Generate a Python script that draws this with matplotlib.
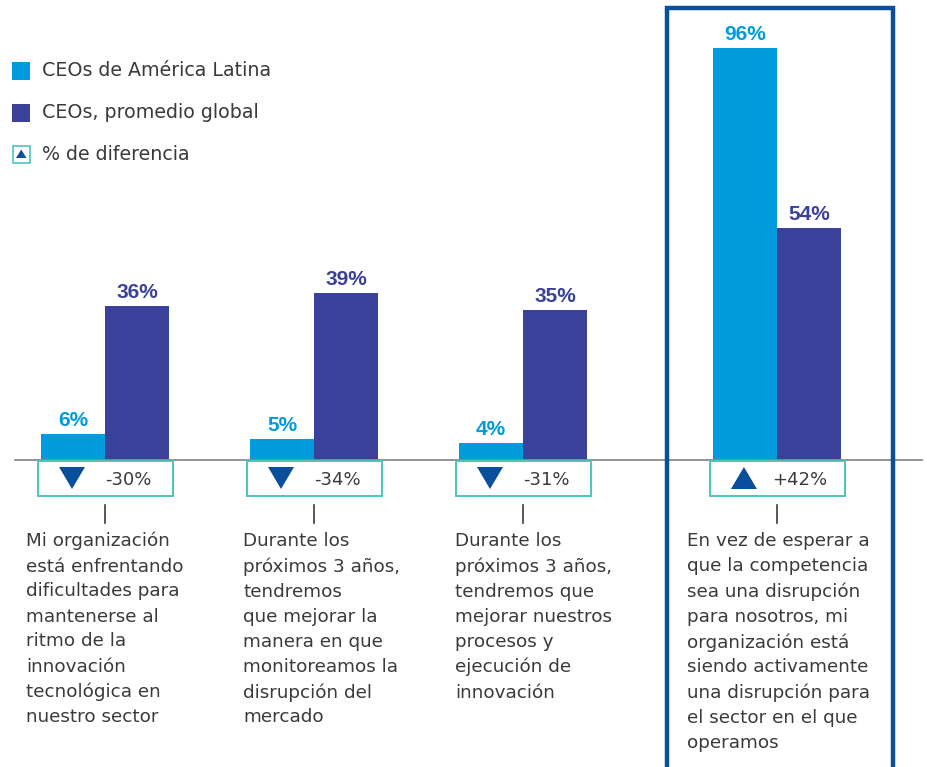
import matplotlib
matplotlib.use("Agg")
import matplotlib.pyplot as plt
from matplotlib.patches import Rectangle, Polygon

plt.rcParams['font.family'] = ['DejaVu Sans']
BOLD = ['Liberation Sans', 'DejaVu Sans']

categories = [
    "Mi organización\nestá enfrentando\ndificultades para\nmantenerse al\nritmo de la\ninnovación\ntecnológica en\nnuestro sector",
    "Durante los\npróximos 3 años,\ntendremos\nque mejorar la\nmanera en que\nmonitoreamos la\ndisrupción del\nmercado",
    "Durante los\npróximos 3 años,\ntendremos que\nmejorar nuestros\nprocesos y\nejecución de\ninnovación",
    "En vez de esperar a\nque la competencia\nsea una disrupción\npara nosotros, mi\norganización está\nsiendo activamente\nuna disrupción para\nel sector en el que\noperamos",
]
latam = [6, 5, 4, 96]
global_avg = [36, 39, 35, 54]
diff_labels = ["-30%", "-34%", "-31%", "+42%"]
series_names = ["CEOs de América Latina", "CEOs, promedio global", "% de diferencia"]

LIGHT = "#009bdc"
DARK = "#3a419a"
TEAL = "#4cc3bd"
NAVY = "#0a4f9c"
TXT = "#3a3a3a"

W, H = 927, 767
fig = plt.figure(figsize=(W / 100, H / 100), dpi=100)
ax = fig.add_axes([0, 0, 1, 1])
ax.axis("off")

# pixel mapping helpers (layout)
c0, step = 105.0, 209.0
base_px, ppu = 460.0, 4.29
def px2x(p):
    return (p - c0) / step
def px2y(p):
    return (base_px - p) / ppu
ax.set_xlim(px2x(0), px2x(W))
ax.set_ylim(px2y(H), px2y(0))

xs = [0, 1, 2, 3.215]
bw = 64 / step

ax.bar([x - bw / 2 for x in xs], latam, width=bw, color=LIGHT, zorder=3)
ax.bar([x + bw / 2 for x in xs], global_avg, width=bw, color=DARK, zorder=3)

for x, a, g in zip(xs, latam, global_avg):
    ax.text(x - bw / 2, a + 0.9, f"{a}%", ha="center", va="bottom",
            color=LIGHT, fontsize=15, fontweight="bold", family=BOLD)
    ax.text(x + bw / 2, g + 0.9, f"{g}%", ha="center", va="bottom",
            color=DARK, fontsize=15, fontweight="bold", family=BOLD)

# baseline
ax.plot([px2x(15), px2x(922)], [0, 0], color="#8a8a8a", lw=1.3, zorder=4)

# difference boxes
text_left_px = [26, 243, 455, 687]
for x, lab, cat, tl in zip(xs, diff_labels, categories, text_left_px):
    bx0 = x - 67 / step
    ax.add_patch(Rectangle((bx0, px2y(496)), 135 / step, px2y(461) - px2y(496),
                           facecolor="white", edgecolor=TEAL, lw=1.4, zorder=5))
    tx = x - 33 / step
    tw = 13 / step
    ty0, ty1 = px2y(489), px2y(467)
    if lab.startswith("-"):
        pts = [(tx - tw, ty1), (tx + tw, ty1), (tx, ty0)]
    else:
        pts = [(tx - tw, ty0), (tx + tw, ty0), (tx, ty1)]
    ax.add_patch(Polygon(pts, closed=True, facecolor=NAVY, edgecolor="none", zorder=6))
    ax.text(x + 23 / step, px2y(480), lab, ha="center", va="center",
            fontsize=13, color=TXT, zorder=6)
    ax.plot([x, x], [px2y(505), px2y(523)], color=TXT, lw=1.2)
    ax.text(px2x(tl), px2y(532), cat, ha="left", va="top", fontsize=13.2,
            color=TXT, linespacing=1.5)

# highlight frame
ax.add_patch(Rectangle((px2x(667), px2y(790)), px2x(893) - px2x(667),
                       px2y(8) - px2y(790), facecolor="none", edgecolor=NAVY,
                       lw=3.2, zorder=7, clip_on=False))

# legend
def fx(p):
    return p / W
def fy(p):
    return 1 - p / H
fig.patches.append(Rectangle((fx(12), fy(80)), 18 / W, 18 / H, facecolor=LIGHT,
                             transform=fig.transFigure, figure=fig))
fig.patches.append(Rectangle((fx(12), fy(122)), 18 / W, 18 / H, facecolor=DARK,
                             transform=fig.transFigure, figure=fig))
fig.patches.append(Rectangle((fx(12.5), fy(163)), 17 / W, 17 / H, facecolor="white",
                             edgecolor=TEAL, lw=1.2, transform=fig.transFigure, figure=fig))
fig.patches.append(Polygon([(fx(16), fy(158)), (fx(26.5), fy(158)), (fx(21.25), fy(149.5))],
                           closed=True, facecolor=NAVY, edgecolor="none",
                           transform=fig.transFigure, figure=fig))
for name, yy in zip(series_names, [71, 112, 154]):
    fig.text(fx(42), fy(yy), name, ha="left", va="center", fontsize=13.7, color=TXT)

fig.savefig("out.png", dpi=100, facecolor="white")
